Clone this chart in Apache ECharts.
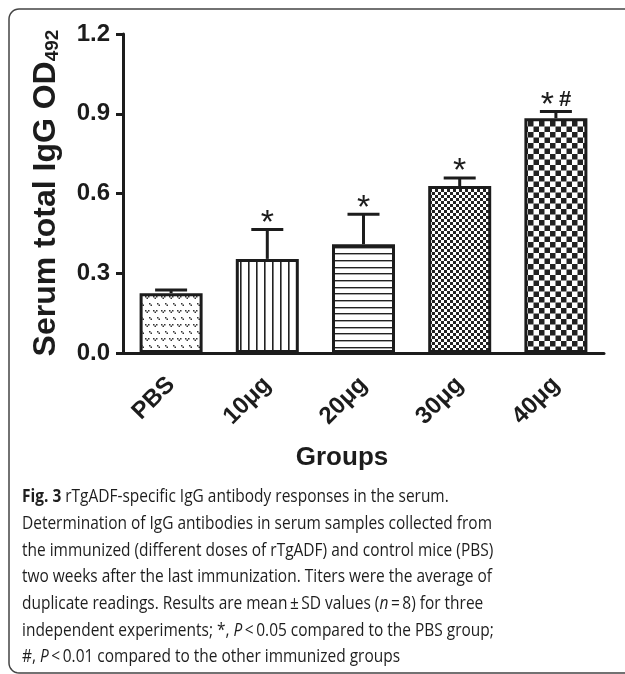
<!DOCTYPE html>
<html lang="en">
<head>
<meta charset="UTF-8">
<title>Serum IgG</title>
<style>
    html, body { margin: 0; padding: 0; background: #fff; }
    #chart { width: 625px; height: 674px; }
</style>
</head>
<body>
<div id="chart"></div>
<script src="https://cdn.jsdelivr.net/npm/echarts@6/dist/echarts.min.js"></script>
<script>
    // data
    var groups = ['PBS', '10μg', '20μg', '30μg', '40μg'];
    var means = [0.225, 0.354, 0.409, 0.628, 0.883];
    var sds = [0.012, 0.111, 0.113, 0.030, 0.025];
    var marks = ['', '*', '*', '*', '*#'];
    var yMax = 1.2, yStep = 0.3;

    var captionLines = [
        '{b|Fig. 3} rTgADF-specific IgG antibody responses in the serum.',
        'Determination of IgG antibodies in serum samples collected from',
        'the immunized (different doses of rTgADF) and control mice (PBS)',
        'two weeks after the last immunization. Titers were the average of',
        'duplicate readings. Results are mean\u2009±\u2009SD values ({i|n}\u2009=\u20098) for three',
        'independent experiments; *, {i|P}\u2009<\u20090.05 compared to the PBS group;',
        '#, {i|P}\u2009<\u20090.01 compared to the other immunized groups'
    ];

    var ink = '#1c1c1c';
    var arial = 'Liberation Sans, Arial, sans-serif';

    function tile(w, h, draw) {
        var c = document.createElement('canvas');
        c.width = w; c.height = h;
        var ctx = c.getContext('2d');
        ctx.fillStyle = '#fff';
        ctx.fillRect(0, 0, w, h);
        ctx.fillStyle = '#222';
        draw(ctx);
        return { image: c, repeat: 'repeat' };
    }

    function vee(ctx, x, y) {
        ctx.fillRect(x, y, 1.5, 1.5);
        ctx.fillRect(x + 3, y, 1.5, 1.5);
        ctx.fillRect(x + 1.5, y + 1.5, 1.5, 1.5);
    }

    var patterns = [
        tile(8, 14, function (ctx) { ctx.fillStyle = '#333'; vee(ctx, 1, 2); vee(ctx, 5, 9); }),
        tile(8, 4, function (ctx) { ctx.fillRect(0, 0, 1.6, 4); }),
        tile(20, 20, function (ctx) { ctx.fillRect(0, 0, 20, 1.4); ctx.fillRect(0, 7, 20, 1.4); ctx.fillRect(0, 13, 20, 1.4); }),
        tile(6, 6, function (ctx) { ctx.fillRect(0, 0, 3, 3); ctx.fillRect(3, 3, 3, 3); }),
        tile(11, 11, function (ctx) { ctx.fillRect(0, 0, 5.5, 5.5); ctx.fillRect(5.5, 5.5, 5.5, 5.5); })
    ];

    // caption squeeze so a plain sans fits the narrow journal face
    var mctx = document.createElement('canvas').getContext('2d');
    mctx.font = '18px "Open Sans"';
    var sx = 470 / mctx.measureText(captionLines[1]).width;

    // frame outline: open to the right, rounded on the left corners
    var framePts = [[900, 9]];
    var r = 10, k;
    for (k = 0; k <= 8; k++) {
        var a = Math.PI / 2 * k / 8;
        framePts.push([19 - r * Math.sin(a), 19 - r * Math.cos(a)]);
    }
    for (k = 0; k <= 8; k++) {
        var b = Math.PI / 2 * k / 8;
        framePts.push([19 - r * Math.cos(b), 663 + r * Math.sin(b)]);
    }
    framePts.push([900, 673]);

    var chart = echarts.init(document.getElementById('chart'));

    var graphics = [{
        type: 'polyline',
        shape: { points: framePts },
        style: { fill: null, stroke: '#444', lineWidth: 1.5 },
        silent: true
    }, {
        type: 'text',
        x: 46, y: 193,
        rotation: Math.PI / 2,
        style: {
            text: '{a|Serum total IgG OD}{s|492}',
            align: 'center', verticalAlign: 'middle',
            fill: ink,
            rich: {
                a: { fontSize: 32, fontWeight: 'bold', fontFamily: arial, fill: ink },
                s: { fontSize: 19, fontWeight: 'bold', fontFamily: arial, fill: ink, verticalAlign: 'bottom' }
            }
        }
    }, {
        type: 'text',
        x: 342, y: 458,
        style: {
            text: 'Groups', align: 'center', verticalAlign: 'middle',
            font: 'bold 26px ' + arial, fill: ink
        }
    }];

    captionLines.forEach(function (line, i) {
        graphics.push({
            type: 'text',
            x: 22, y: 497 + 26.7 * i,
            scaleX: sx,
            style: {
                text: line,
                verticalAlign: 'middle',
                fontSize: 18, fontFamily: 'Open Sans', fill: '#1e1e1e',
                rich: {
                    b: { fontSize: 18, fontFamily: 'Open Sans', fontWeight: 'bold', fill: '#1e1e1e' },
                    i: { fontSize: 18, fontFamily: 'Open Sans', fontStyle: 'italic', fill: '#1e1e1e' }
                }
            }
        });
    });

    var option = {
        animation: false,
        grid: { left: 123, right: 21, top: 34, bottom: 321 },
        xAxis: {
            type: 'category',
            data: groups,
            axisLine: { lineStyle: { color: ink, width: 3 } },
            axisTick: { alignWithLabel: true, length: 7, lineStyle: { width: 3, color: ink } },
            axisLabel: {
                interval: 0, rotate: 45, margin: 28,
                fontSize: 24, fontWeight: 'bold', fontFamily: arial, color: ink
            }
        },
        yAxis: {
            type: 'value',
            min: 0, max: yMax, interval: yStep,
            axisLine: { show: true, lineStyle: { color: ink, width: 3 } },
            axisTick: { show: true, length: 7, lineStyle: { width: 3, color: ink } },
            splitLine: { show: false },
            axisLabel: {
                margin: 13, fontSize: 24, fontWeight: 'bold', fontFamily: arial, color: ink,
                formatter: function (v) { return v.toFixed(1); }
            }
        },
        series: [{
            type: 'bar',
            barWidth: 63,
            data: means.map(function (v, i) {
                return { value: v, itemStyle: { color: patterns[i] } };
            }),
            itemStyle: { borderColor: ink, borderWidth: 3 },
            z: 2
        }, {
            type: 'custom',
            z: 3,
            data: means.map(function (v, i) { return [i, v, sds[i]]; }),
            renderItem: function (params, api) {
                var i = api.value(0);
                var base = api.coord([i, api.value(1)]);
                var top = api.coord([i, api.value(1) + api.value(2)]);
                var cap = 16;
                var mark = marks[i];
                var txt = mark === '*#' ? '{s|*}{h|#}' : '{s|' + mark + '}';
                return {
                    type: 'group',
                    children: [{
                        type: 'line',
                        shape: { x1: base[0], y1: base[1], x2: top[0], y2: top[1] },
                        style: { stroke: ink, lineWidth: 3 }
                    }, {
                        type: 'line',
                        shape: { x1: top[0] - cap, y1: top[1], x2: top[0] + cap, y2: top[1] },
                        style: { stroke: ink, lineWidth: 3 }
                    }, {
                        type: 'text',
                        x: top[0], y: top[1] - 6,
                        style: {
                            text: mark ? txt : '',
                            align: 'center', verticalAlign: 'middle',
                            rich: {
                                s: { fontSize: 34, fontFamily: arial, fill: ink },
                                h: { fontSize: 22, fontWeight: 'bold', fontFamily: arial, fill: ink, padding: [0, 0, 12, 5] }
                            }
                        }
                    }]
                };
            }
        }],
        graphic: graphics
    };
    chart.setOption(option);
</script>
</body>
</html>
